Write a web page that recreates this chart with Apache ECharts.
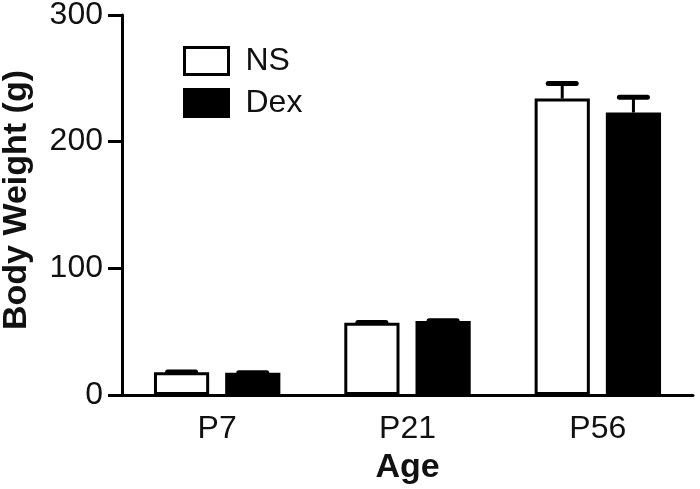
<!DOCTYPE html>
<html>
<head>
<meta charset="utf-8">
<script src="https://cdn.jsdelivr.net/npm/echarts@6/dist/echarts.min.js"></script>
<style>
html,body{margin:0;padding:0;background:#fff;}
#chart{width:700px;height:489px;}
</style>
</head>
<body>
<div id="chart"></div>
<script>
var categories = ['P7', 'P21', 'P56'];
var nsValues = [18, 57, 234];
var dexValues = [17.5, 58.5, 223];
var nsErr = [0.15, 0.2, 12];
var dexErr = [0.15, 0.2, 12];
var yTicks = [0, 100, 200, 300];

var FONT = '"Liberation Sans", Arial, sans-serif';
var BAR_W = 0.29, BAR_GAP = 0.29;

function errSeries(name, values, errs, sign) {
  return {
    type: 'custom',
    name: name + ' err',
    z: 1,
    silent: true,
    data: values.map(function (v, i) { return [i, v, errs[i]]; }),
    renderItem: function (params, api) {
      var idx = api.value(0), v = api.value(1), e = api.value(2);
      var band = api.size([1, 0])[0];
      var w = band * BAR_W;
      var off = sign * (w + w * BAR_GAP) / 2;
      var p0 = api.coord([idx, v]);
      var p1 = api.coord([idx, v + e]);
      var x = p0[0] + off;
      var capHalf = 14;
      return {
        type: 'group',
        children: [
          { type: 'line', shape: { x1: x, y1: p0[1], x2: x, y2: p1[1] },
            style: { stroke: '#000', lineWidth: 3 } },
          { type: 'line', shape: { x1: x - capHalf, y1: p1[1], x2: x + capHalf, y2: p1[1] },
            style: { stroke: '#000', lineWidth: 5, lineCap: 'round' } }
        ]
      };
    }
  };
}

var chart = echarts.init(document.getElementById('chart'), null, { renderer: 'canvas' });
chart.setOption({
  animation: false,
  backgroundColor: '#fff',
  grid: { left: 122, right: 7, top: 15, bottom: 94, containLabel: false, outerBoundsMode: 'none' },
  legend: {
    left: 178, top: 40, orient: 'vertical', icon: 'rect',
    itemWidth: 44, itemHeight: 27, itemGap: 10,
    textStyle: { fontFamily: FONT, fontSize: 32, color: '#111', padding: [0, 0, 0, 12] },
    data: [
      { name: 'NS', itemStyle: { color: '#fff', borderColor: '#000', borderWidth: 3 } },
      { name: 'Dex', itemStyle: { color: '#000', borderColor: '#000', borderWidth: 3 } }
    ]
  },
  xAxis: {
    type: 'category', data: categories,
    name: 'Age', nameLocation: 'middle', nameGap: 56,
    nameTextStyle: { fontFamily: FONT, fontSize: 34, fontWeight: 'bold', color: '#111' },
    axisLine: { lineStyle: { color: '#000', width: 3 } },
    axisTick: { show: false },
    axisLabel: { fontFamily: FONT, fontSize: 32, color: '#111', margin: 18 }
  },
  yAxis: {
    type: 'value', min: 0, max: 300, interval: 100,
    name: 'Body Weight (g)', nameLocation: 'middle', nameGap: 88,
    nameTextStyle: { fontFamily: FONT, fontSize: 34, fontWeight: 'bold', color: '#111', padding: [0, 0, 0, 10] },
    axisLine: { show: true, lineStyle: { color: '#000', width: 3 } },
    axisTick: { show: true, length: 14, lineStyle: { color: '#000', width: 3 } },
    axisLabel: { fontFamily: FONT, fontSize: 32, color: '#111', margin: 19,
      formatter: function (v) { return yTicks.indexOf(v) >= 0 ? String(v) : ''; } },
    splitLine: { show: false }
  },
  series: [
    { name: 'NS', type: 'bar', z: 2, data: nsValues, barWidth: (BAR_W * 100) + '%', barGap: (BAR_GAP * 100) + '%',
      itemStyle: { color: '#fff', borderColor: '#000', borderWidth: 3 } },
    { name: 'Dex', type: 'bar', z: 2, data: dexValues, barWidth: (BAR_W * 100) + '%', barGap: (BAR_GAP * 100) + '%',
      itemStyle: { color: '#000', borderColor: '#000', borderWidth: 3 } },
    errSeries('NS', nsValues, nsErr, -1),
    errSeries('Dex', dexValues, dexErr, 1)
  ]
});
</script>
</body>
</html>
